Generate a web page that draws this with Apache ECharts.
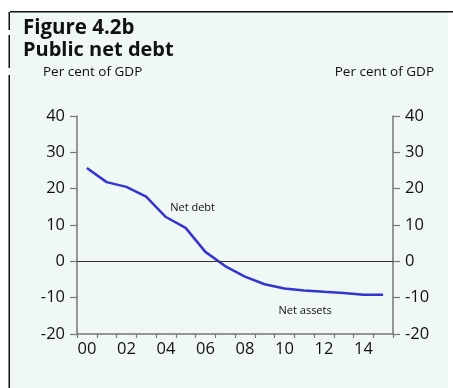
<!DOCTYPE html>
<html><head><meta charset="utf-8">
<script src="https://cdn.jsdelivr.net/npm/echarts@6/dist/echarts.min.js"></script>
<style>html,body{margin:0;padding:0;background:#fff}#c{width:453px;height:388px}</style>
</head><body><div id="c"></div>
<script>
var years = ['00','01','02','03','04','05','06','07','08','09','10','11','12','13','14','15'];
var netDebt = [25.7, 21.8, 20.5, 17.8, 12.2, 9.2, 2.6, -1.3, -4.2, -6.3, -7.5, -8.0, -8.4, -8.7, -9.2, -9.2];
var yTicks = {min: -20, max: 40, interval: 10};
var titleLine1 = 'Figure 4.2b';
var titleLine2 = 'Public net debt';
var unitLabel = 'Per cent of GDP';
var seriesLabels = ['Net debt', 'Net assets'];

var FONT = '"Open Sans", "Liberation Sans", sans-serif';
var chart = echarts.init(document.getElementById('c'), null, {renderer: 'canvas'});
var axisColor = '#777';
var textColor = '#111';
function yAxisDef(pos) {
  return {
    type: 'value', position: pos, min: yTicks.min, max: yTicks.max, interval: yTicks.interval,
    axisLine: {show: true, lineStyle: {color: axisColor, width: 1.5}},
    axisTick: {show: true, inside: false, length: 7, lineStyle: {color: axisColor, width: 1.2}},
    axisLabel: {color: textColor, fontSize: 16.5, fontFamily: FONT, margin: 12},
    splitLine: {show: false}
  };
}
var lblStyle = {show: true, color: textColor, fontSize: 11, fontFamily: FONT};
chart.setOption({
  animation: false,
  backgroundColor: '#ffffff',
  graphic: [
    {type: 'rect', z: -10, shape: {x: 10, y: 12, width: 438, height: 376}, style: {fill: '#f0f8f5'}},
    {type: 'rect', z: 5, shape: {x: 10, y: 11, width: 443, height: 1.5}, style: {fill: '#111'}},
    {type: 'rect', z: 5, shape: {x: 8.5, y: 12, width: 1.5, height: 18}, style: {fill: '#111'}},
    {type: 'rect', z: 5, shape: {x: 8.5, y: 35, width: 1.5, height: 33}, style: {fill: '#111'}},
    {type: 'rect', z: 5, shape: {x: 8.5, y: 75, width: 1.5, height: 313}, style: {fill: '#111'}},
    {type: 'text', left: 23, top: 18, style: {text: titleLine1, font: 'bold 20.5px ' + FONT, fill: '#111'}},
    {type: 'text', left: 23, top: 40, style: {text: titleLine2, font: 'bold 20px ' + FONT, fill: '#111'}},
    {type: 'text', left: 43, top: 65, style: {text: unitLabel, font: '13.5px ' + FONT, fill: textColor}},
    {type: 'text', right: 19, top: 65, style: {text: unitLabel, font: '13.5px ' + FONT, fill: textColor}}
  ],
  grid: {left: 77, right: 60, top: 116, bottom: 54, containLabel: false},
  xAxis: {
    type: 'category', data: years, boundaryGap: true, position: 'bottom',
    axisLine: {show: true, onZero: false, lineStyle: {color: axisColor, width: 1.5}},
    axisTick: {show: true, interval: 0, length: 4, alignWithLabel: false, lineStyle: {color: axisColor, width: 1.2}},
    axisLabel: {interval: 1, color: textColor, fontSize: 16.5, fontFamily: FONT, margin: 7},
    splitLine: {show: false}
  },
  yAxis: [yAxisDef('left'), yAxisDef('right')],
  series: [{
    type: 'line', data: netDebt, yAxisIndex: 0, symbol: 'none', smooth: false,
    lineStyle: {color: '#3434cf', width: 2.5},
    markLine: {
      silent: true, symbol: 'none', label: {show: false},
      lineStyle: {color: '#333', width: 1, type: 'solid'},
      data: [{yAxis: 0}]
    },
    markPoint: {
      symbol: 'rect', symbolSize: 0, silent: true,
      data: [
        {coord: ['05', 14.8], label: Object.assign({formatter: seriesLabels[0], position: 'inside', offset: [7, 0]}, lblStyle)},
        {coord: ['11', -13.7], label: Object.assign({formatter: seriesLabels[1], position: 'inside', offset: [1, 0]}, lblStyle)}
      ]
    }
  }]
});
</script></body></html>
